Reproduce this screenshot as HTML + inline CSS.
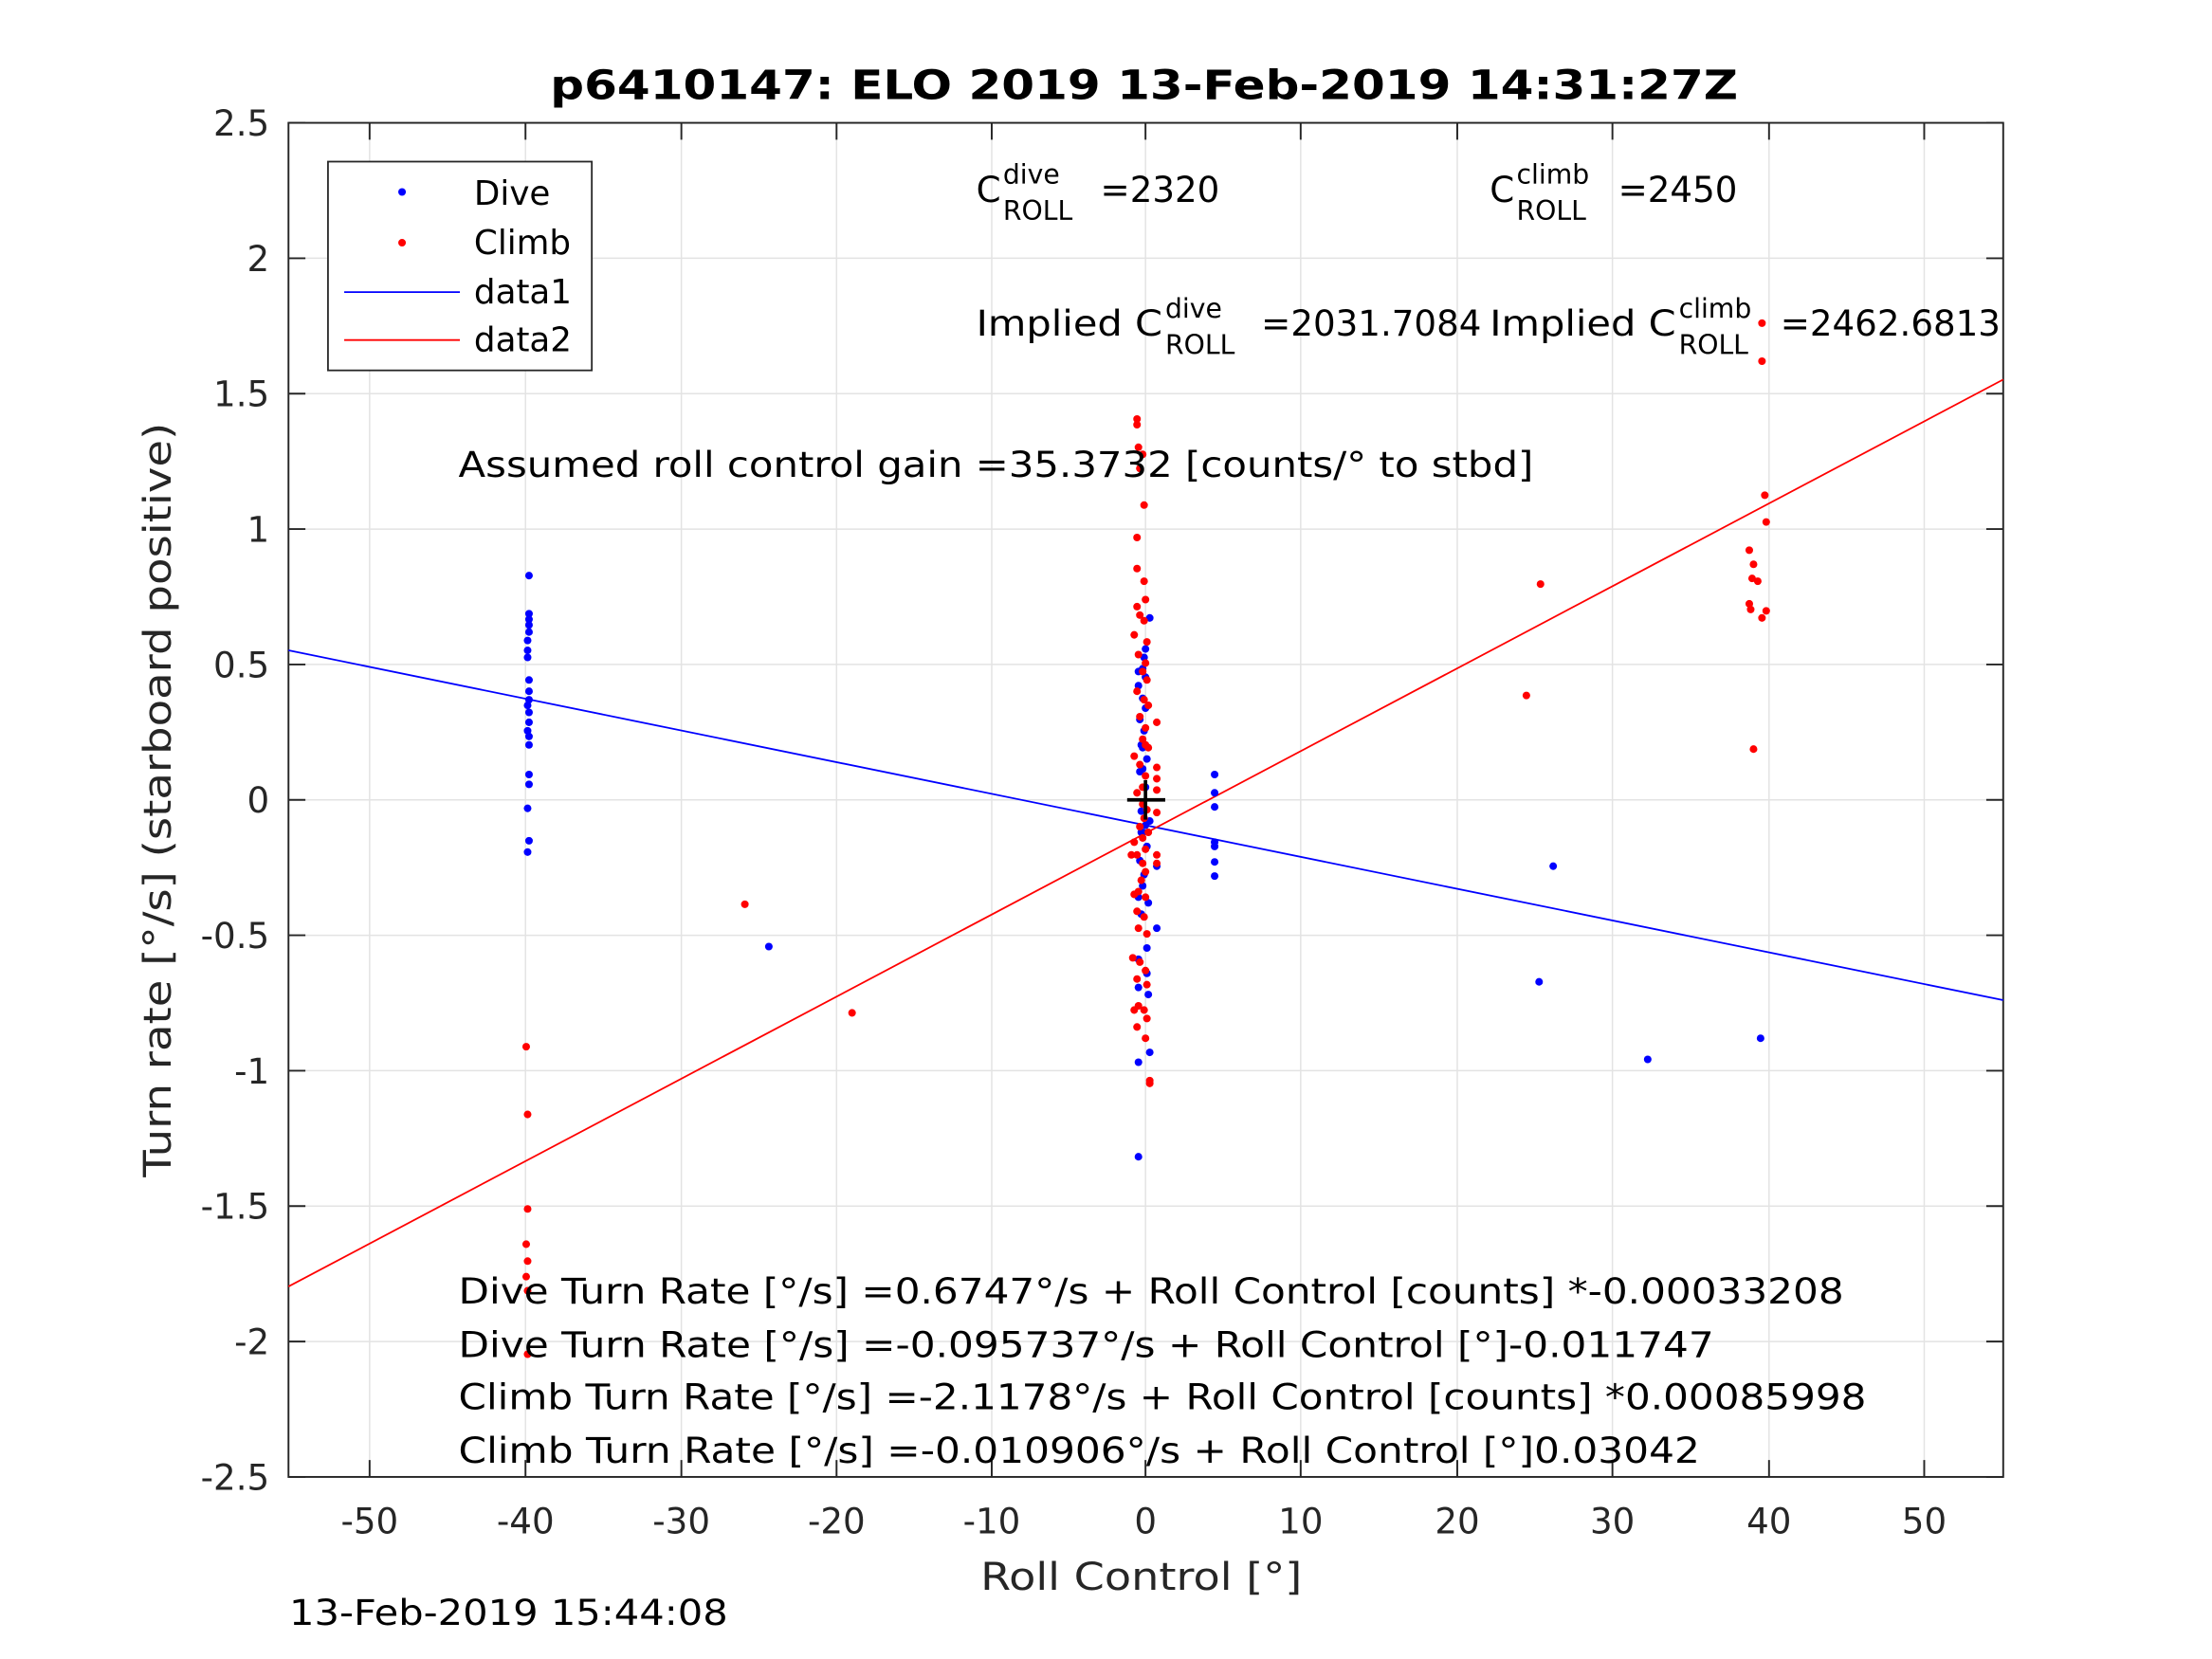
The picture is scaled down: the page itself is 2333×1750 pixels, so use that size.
<!DOCTYPE html>
<html><head><meta charset="utf-8"><style>
html,body{margin:0;padding:0;background:#fff;}
svg{display:block;}
text{font-family:"DejaVu Sans","Liberation Sans",sans-serif;fill:#262626;}
</style></head><body>
<svg width="2333" height="1750" viewBox="0 0 1568 1176" xmlns="http://www.w3.org/2000/svg">
<rect width="1568" height="1176" fill="#fff"/>
<g stroke="#e3e3e3" stroke-width="1">
<line x1="262" y1="87" x2="262" y2="1047"/><line x1="372.5" y1="87" x2="372.5" y2="1047"/><line x1="483" y1="87" x2="483" y2="1047"/><line x1="593" y1="87" x2="593" y2="1047"/><line x1="703" y1="87" x2="703" y2="1047"/><line x1="812" y1="87" x2="812" y2="1047"/><line x1="922" y1="87" x2="922" y2="1047"/><line x1="1033" y1="87" x2="1033" y2="1047"/><line x1="1143" y1="87" x2="1143" y2="1047"/><line x1="1254" y1="87" x2="1254" y2="1047"/><line x1="1364" y1="87" x2="1364" y2="1047"/>
<line x1="204.5" y1="183" x2="1420" y2="183"/><line x1="204.5" y1="279" x2="1420" y2="279"/><line x1="204.5" y1="375" x2="1420" y2="375"/><line x1="204.5" y1="471" x2="1420" y2="471"/><line x1="204.5" y1="567" x2="1420" y2="567"/><line x1="204.5" y1="663" x2="1420" y2="663"/><line x1="204.5" y1="759" x2="1420" y2="759"/><line x1="204.5" y1="855" x2="1420" y2="855"/><line x1="204.5" y1="951" x2="1420" y2="951"/>
</g>
<g stroke="#262626" stroke-width="1.3">
<path d="M262 1047v-12M372.5 1047v-12M483 1047v-12M593 1047v-12M703 1047v-12M812 1047v-12M922 1047v-12M1033 1047v-12M1143 1047v-12M1254 1047v-12M1364 1047v-12"/>
<path d="M262 87v12M372.5 87v12M483 87v12M593 87v12M703 87v12M812 87v12M922 87v12M1033 87v12M1143 87v12M1254 87v12M1364 87v12"/>
<path d="M204.5 87h12M204.5 183h12M204.5 279h12M204.5 375h12M204.5 471h12M204.5 567h12M204.5 663h12M204.5 759h12M204.5 855h12M204.5 951h12M204.5 1047h12"/>
<path d="M1420 87h-12M1420 183h-12M1420 279h-12M1420 375h-12M1420 471h-12M1420 567h-12M1420 663h-12M1420 759h-12M1420 855h-12M1420 951h-12M1420 1047h-12"/>
</g>
<rect x="204.5" y="87" width="1215.5" height="960" fill="none" stroke="#262626" stroke-width="1.3"/>
<g font-size="25" text-anchor="middle">
<text x="262" y="1087">-50</text><text x="372.5" y="1087">-40</text><text x="483" y="1087">-30</text><text x="593" y="1087">-20</text><text x="703" y="1087">-10</text><text x="812" y="1087">0</text><text x="922" y="1087">10</text><text x="1033" y="1087">20</text><text x="1143" y="1087">30</text><text x="1254" y="1087">40</text><text x="1364" y="1087">50</text>
</g>
<g font-size="25" text-anchor="end">
<text x="191" y="96">2.5</text><text x="191" y="192">2</text><text x="191" y="288">1.5</text><text x="191" y="384">1</text><text x="191" y="480">0.5</text><text x="191" y="576">0</text><text x="191" y="672">-0.5</text><text x="191" y="768">-1</text><text x="191" y="864">-1.5</text><text x="191" y="960">-2</text><text x="191" y="1056">-2.5</text>
</g>
<text x="811" y="70" font-size="29" font-weight="bold" text-anchor="middle" textLength="842" lengthAdjust="spacingAndGlyphs" style="fill:#000">p6410147: ELO 2019 13-Feb-2019 14:31:27Z</text>
<text x="809" y="1127" font-size="27" text-anchor="middle" textLength="228" lengthAdjust="spacingAndGlyphs">Roll Control [°]</text>
<text transform="translate(121,567) rotate(-90)" font-size="27" text-anchor="middle" textLength="535" lengthAdjust="spacingAndGlyphs">Turn rate [°/s] (starboard positive)</text>
<text x="205" y="1152" font-size="25" textLength="311" lengthAdjust="spacingAndGlyphs" style="fill:#000">13-Feb-2019 15:44:08</text>
<line x1="204.5" y1="461" x2="1420" y2="709" stroke="#0000ff" stroke-width="1.2"/>
<line x1="204.5" y1="912" x2="1420" y2="269" stroke="#ff0000" stroke-width="1.2"/>
<g fill="#0000ff">
<circle cx="375" cy="408" r="2.7"/><circle cx="375" cy="435" r="2.7"/><circle cx="375" cy="439" r="2.7"/><circle cx="375" cy="443" r="2.7"/><circle cx="375" cy="448" r="2.7"/><circle cx="374" cy="454" r="2.7"/><circle cx="374" cy="461" r="2.7"/><circle cx="374" cy="466" r="2.7"/><circle cx="375" cy="482" r="2.7"/><circle cx="375" cy="490" r="2.7"/><circle cx="375" cy="496" r="2.7"/><circle cx="374" cy="500" r="2.7"/><circle cx="375" cy="505" r="2.7"/><circle cx="375" cy="512" r="2.7"/><circle cx="374" cy="518" r="2.7"/><circle cx="375" cy="522" r="2.7"/><circle cx="375" cy="528" r="2.7"/><circle cx="375" cy="549" r="2.7"/><circle cx="375" cy="556" r="2.7"/><circle cx="374" cy="573" r="2.7"/><circle cx="375" cy="596" r="2.7"/><circle cx="374" cy="604" r="2.7"/>
<circle cx="545" cy="671" r="2.7"/>
<circle cx="861" cy="549" r="2.7"/><circle cx="861" cy="562" r="2.7"/><circle cx="861" cy="572" r="2.7"/><circle cx="861" cy="597" r="2.7"/><circle cx="861" cy="600" r="2.7"/><circle cx="861" cy="611" r="2.7"/><circle cx="861" cy="621" r="2.7"/>
<circle cx="1101" cy="614" r="2.7"/><circle cx="1091" cy="696" r="2.7"/><circle cx="1168" cy="751" r="2.7"/><circle cx="1248" cy="736" r="2.7"/>
<circle cx="807" cy="820" r="2.7"/><circle cx="807" cy="753" r="2.7"/><circle cx="815" cy="746" r="2.7"/><circle cx="807" cy="700" r="2.7"/><circle cx="814" cy="705" r="2.7"/><circle cx="807" cy="680" r="2.7"/><circle cx="813" cy="672" r="2.7"/><circle cx="820" cy="658" r="2.7"/><circle cx="809" cy="648" r="2.7"/><circle cx="814" cy="640" r="2.7"/><circle cx="810" cy="628" r="2.7"/><circle cx="820" cy="614" r="2.7"/><circle cx="808" cy="610" r="2.7"/><circle cx="813" cy="600" r="2.7"/><circle cx="810" cy="590" r="2.7"/><circle cx="815" cy="582" r="2.7"/><circle cx="809" cy="575" r="2.7"/><circle cx="812" cy="558" r="2.7"/><circle cx="808" cy="547" r="2.7"/><circle cx="813" cy="538" r="2.7"/><circle cx="809" cy="528" r="2.7"/><circle cx="811" cy="518" r="2.7"/><circle cx="808" cy="510" r="2.7"/><circle cx="812" cy="502" r="2.7"/><circle cx="810" cy="495" r="2.7"/><circle cx="807" cy="486" r="2.7"/><circle cx="812" cy="480" r="2.7"/><circle cx="810" cy="474" r="2.7"/><circle cx="811" cy="466" r="2.7"/><circle cx="812" cy="460" r="2.7"/><circle cx="815" cy="438" r="2.7"/><circle cx="807" cy="476" r="2.7"/><circle cx="810" cy="530" r="2.7"/><circle cx="809" cy="590" r="2.7"/><circle cx="811" cy="620" r="2.7"/><circle cx="807" cy="636" r="2.7"/><circle cx="813" cy="690" r="2.7"/><circle cx="810" cy="545" r="2.7"/><circle cx="812" cy="585" r="2.7"/>
</g>
<g fill="#ff0000">
<circle cx="373" cy="742" r="2.7"/><circle cx="374" cy="790" r="2.7"/><circle cx="374" cy="857" r="2.7"/><circle cx="373" cy="882" r="2.7"/><circle cx="374" cy="894" r="2.7"/><circle cx="373" cy="905" r="2.7"/><circle cx="374" cy="915" r="2.7"/><circle cx="374" cy="960" r="2.7"/>
<circle cx="528" cy="641" r="2.7"/><circle cx="604" cy="718" r="2.7"/>
<circle cx="1092" cy="414" r="2.7"/><circle cx="1082" cy="493" r="2.7"/>
<circle cx="1249" cy="229" r="2.7"/><circle cx="1249" cy="256" r="2.7"/><circle cx="1251" cy="351" r="2.7"/><circle cx="1252" cy="370" r="2.7"/><circle cx="1240" cy="390" r="2.7"/><circle cx="1243" cy="400" r="2.7"/><circle cx="1242" cy="410" r="2.7"/><circle cx="1246" cy="412" r="2.7"/><circle cx="1240" cy="428" r="2.7"/><circle cx="1241" cy="432" r="2.7"/><circle cx="1252" cy="433" r="2.7"/><circle cx="1249" cy="438" r="2.7"/><circle cx="1243" cy="531" r="2.7"/>
<circle cx="806" cy="297" r="2.7"/><circle cx="806" cy="301" r="2.7"/><circle cx="807" cy="317" r="2.7"/><circle cx="810" cy="322" r="2.7"/><circle cx="808" cy="332" r="2.7"/><circle cx="811" cy="358" r="2.7"/><circle cx="806" cy="381" r="2.7"/><circle cx="806" cy="403" r="2.7"/><circle cx="811" cy="412" r="2.7"/><circle cx="812" cy="425" r="2.7"/><circle cx="806" cy="430" r="2.7"/><circle cx="808" cy="436" r="2.7"/><circle cx="811" cy="440" r="2.7"/><circle cx="804" cy="450" r="2.7"/><circle cx="813" cy="455" r="2.7"/><circle cx="807" cy="464" r="2.7"/><circle cx="812" cy="470" r="2.7"/><circle cx="810" cy="476" r="2.7"/><circle cx="813" cy="482" r="2.7"/><circle cx="806" cy="490" r="2.7"/><circle cx="811" cy="496" r="2.7"/><circle cx="814" cy="500" r="2.7"/><circle cx="820" cy="512" r="2.7"/><circle cx="808" cy="508" r="2.7"/><circle cx="812" cy="516" r="2.7"/><circle cx="810" cy="524" r="2.7"/><circle cx="814" cy="530" r="2.7"/><circle cx="804" cy="536" r="2.7"/><circle cx="808" cy="542" r="2.7"/><circle cx="820" cy="544" r="2.7"/><circle cx="812" cy="550" r="2.7"/><circle cx="820" cy="552" r="2.7"/><circle cx="810" cy="558" r="2.7"/><circle cx="820" cy="560" r="2.7"/><circle cx="806" cy="562" r="2.7"/><circle cx="813" cy="574" r="2.7"/><circle cx="820" cy="576" r="2.7"/><circle cx="811" cy="580" r="2.7"/><circle cx="808" cy="586" r="2.7"/><circle cx="814" cy="590" r="2.7"/><circle cx="810" cy="594" r="2.7"/><circle cx="804" cy="597" r="2.7"/><circle cx="812" cy="602" r="2.7"/><circle cx="806" cy="606" r="2.7"/><circle cx="820" cy="606" r="2.7"/><circle cx="810" cy="612" r="2.7"/><circle cx="820" cy="612" r="2.7"/><circle cx="812" cy="618" r="2.7"/><circle cx="809" cy="624" r="2.7"/><circle cx="807" cy="632" r="2.7"/><circle cx="804" cy="634" r="2.7"/><circle cx="812" cy="636" r="2.7"/><circle cx="806" cy="646" r="2.7"/><circle cx="811" cy="650" r="2.7"/><circle cx="807" cy="658" r="2.7"/><circle cx="813" cy="662" r="2.7"/><circle cx="803" cy="679" r="2.7"/><circle cx="808" cy="682" r="2.7"/><circle cx="812" cy="688" r="2.7"/><circle cx="806" cy="694" r="2.7"/><circle cx="813" cy="698" r="2.7"/><circle cx="807" cy="713" r="2.7"/><circle cx="811" cy="716" r="2.7"/><circle cx="813" cy="722" r="2.7"/><circle cx="806" cy="728" r="2.7"/><circle cx="812" cy="736" r="2.7"/><circle cx="804" cy="716" r="2.7"/><circle cx="815" cy="766" r="2.7"/><circle cx="815" cy="768" r="2.7"/><circle cx="802" cy="606" r="2.7"/><circle cx="810" cy="570" r="2.7"/><circle cx="812" cy="528" r="2.7"/>
</g>
<g stroke="#000" stroke-width="2.5"><line x1="799" y1="567" x2="826" y2="567"/><line x1="812" y1="553" x2="812" y2="581"/></g>
<g font-size="25" style="fill:#000">
<text x="692" y="143" style="fill:#000">C</text><text x="711" y="130" font-size="19" style="fill:#000">dive</text><text x="711" y="156" font-size="19" style="fill:#000">ROLL</text><text x="780" y="143" style="fill:#000">=2320</text>
<text x="1056" y="143" style="fill:#000">C</text><text x="1075" y="130" font-size="19" style="fill:#000">climb</text><text x="1075" y="156" font-size="19" style="fill:#000">ROLL</text><text x="1147" y="143" style="fill:#000">=2450</text>
<text x="692" y="238" textLength="132" lengthAdjust="spacingAndGlyphs" style="fill:#000">Implied C</text><text x="826" y="225" font-size="19" style="fill:#000">dive</text><text x="826" y="251" font-size="19" style="fill:#000">ROLL</text><text x="894" y="238" style="fill:#000">=2031.7084</text>
<text x="1056" y="238" textLength="132" lengthAdjust="spacingAndGlyphs" style="fill:#000">Implied C</text><text x="1190" y="225" font-size="19" style="fill:#000">climb</text><text x="1190" y="251" font-size="19" style="fill:#000">ROLL</text><text x="1262" y="238" style="fill:#000">=2462.6813</text>
<text x="325" y="338" textLength="762" lengthAdjust="spacingAndGlyphs" style="fill:#000">Assumed roll control gain =35.3732 [counts/° to stbd]</text>
<text x="325" y="924" textLength="982" lengthAdjust="spacingAndGlyphs" style="fill:#000">Dive Turn Rate [°/s] =0.6747°/s + Roll Control [counts] *-0.00033208</text>
<text x="325" y="962" textLength="890" lengthAdjust="spacingAndGlyphs" style="fill:#000">Dive Turn Rate [°/s] =-0.095737°/s + Roll Control [°]-0.011747</text>
<text x="325" y="999" textLength="998" lengthAdjust="spacingAndGlyphs" style="fill:#000">Climb Turn Rate [°/s] =-2.1178°/s + Roll Control [counts] *0.00085998</text>
<text x="325" y="1037" textLength="880" lengthAdjust="spacingAndGlyphs" style="fill:#000">Climb Turn Rate [°/s] =-0.010906°/s + Roll Control [°]0.03042</text>
</g>
<rect x="232.5" y="114.5" width="187" height="148" fill="#fff" stroke="#262626" stroke-width="1.2"/>
<circle cx="285" cy="136" r="2.7" fill="#0000ff"/>
<circle cx="285" cy="172" r="2.7" fill="#ff0000"/>
<line x1="244" y1="207" x2="326" y2="207" stroke="#0000ff" stroke-width="1.2"/>
<line x1="244" y1="241" x2="326" y2="241" stroke="#ff0000" stroke-width="1.2"/>
<g font-size="24"><text x="336" y="145" style="fill:#000">Dive</text><text x="336" y="180" style="fill:#000">Climb</text><text x="336" y="215" style="fill:#000">data1</text><text x="336" y="249" style="fill:#000">data2</text></g>
</svg>
</body></html>
